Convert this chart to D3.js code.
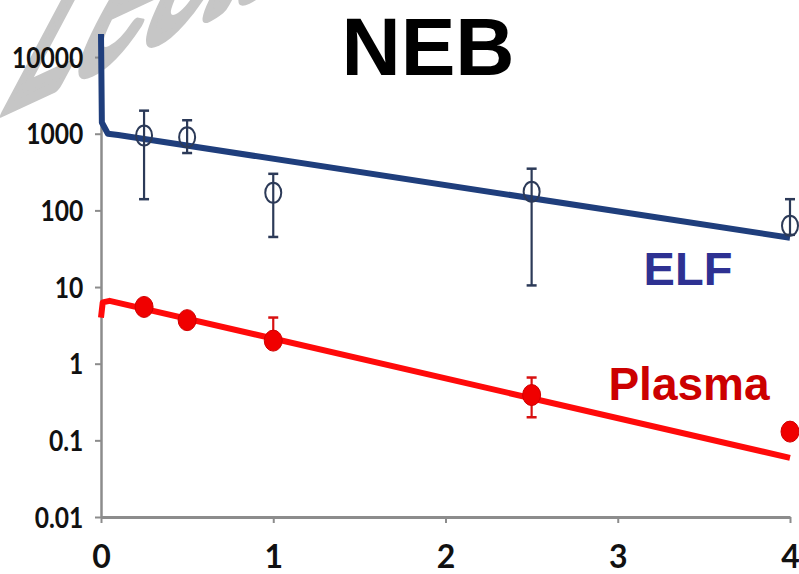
<!DOCTYPE html>
<html><head><meta charset="utf-8">
<script src="https://cdn.jsdelivr.net/npm/d3@7"></script>
<style>body{margin:0;background:#fff;}svg{display:block;}</style>
</head><body>
<script>
// ---- data ----
const title = "NEB";
const watermark = "Lecture";
const xTicks = [0, 1, 2, 3, 4];
const yTicks = [0.01, 0.1, 1, 10, 100, 1000, 10000];
const yTickLabels = ["0.01", "0.1", "1", "10", "100", "1000", "10000"];

// fitted curves
const elfCurveT = [0, 0.005, 0.04, 0.1, 4];
const elfCurveC = [20000, 1400, 1000, 960, 44];
const plasmaCurveT = [0, 0.01, 0.05, 4];
const plasmaCurveC = [4, 6.3, 6.6, 0.059];

// observed data
const elfT = [0.25, 0.5, 1, 2.5, 4];
const elfMean = [950, 900, 170, 175, 63];
const elfLow = [140, 560, 45, 10.5, 48];
const elfHigh = [2000, 1500, 300, 350, 140];

const plasmaT = [0.25, 0.5, 1, 2.5, 4];
const plasmaMean = [5.5, 3.7, 2.0, 0.39, 0.13];
const plasmaLow = [null, null, null, 0.2, null];
const plasmaHigh = [null, null, 4.0, 0.66, null];

const seriesLabels = ["ELF", "Plasma"];

// ---- drawing ----
const W = 799, H = 574;
const svg = d3.select("body").append("svg").attr("width", W).attr("height", H);

// watermark (sheared, partly outside the picture)
svg.append("text")
  .attr("transform", "matrix(0.874,-0.407,-0.953,1.794,-5,115)")
  .attr("font-family", "Liberation Sans, Arial, sans-serif")
  .attr("font-size", 140)
  .attr("fill", "#c6c6c6")
  .attr("stroke", "#c6c6c6").attr("stroke-width", 8)
  .attr("stroke-linejoin", "round")
  .text(watermark);

const x = d3.scaleLinear().domain([0, 4]).range([101, 790]);
const y = d3.scaleLog().domain([0.01, 20000]).range([517, 34]);

const axisColor = "#8c8c8c";

// y axis
const yAxis = d3.axisLeft(y).tickValues(yTicks).tickSize(6).tickSizeOuter(0)
  .tickFormat((d, i) => yTickLabels[i]);
const gy = svg.append("g").attr("transform", `translate(${x(0)},0)`).call(yAxis);
gy.select(".domain").attr("stroke", axisColor).attr("stroke-width", 2.5);
gy.selectAll(".tick line").attr("stroke", axisColor).attr("stroke-width", 2);
gy.selectAll(".tick text")
  .attr("font-family", "Lato, sans-serif").attr("font-weight", 700)
  .attr("font-size", 28).attr("fill", "#111")
  .attr("x", -20).attr("dy", "0.36em")
  .attr("transform", "scale(0.88,1)");

// x axis
const xAxis = d3.axisBottom(x).tickValues(xTicks).tickSize(6).tickSizeOuter(0)
  .tickFormat(d3.format("d"));
const gx = svg.append("g").attr("transform", `translate(0,${y(0.01)})`).call(xAxis);
gx.select(".domain").attr("stroke", axisColor).attr("stroke-width", 3);
gx.selectAll(".tick line").attr("stroke", axisColor).attr("stroke-width", 2);
gx.selectAll(".tick text")
  .attr("font-family", "Lato, sans-serif").attr("font-weight", 700)
  .attr("font-size", 32).attr("fill", "#111")
  .attr("y", 28).attr("dy", "0.71em");

const line = d3.line().x(d => x(d[0])).y(d => y(d[1]));

// ELF curve
const elfColor = "#1f3e7c";
svg.append("path").datum(elfCurveT.map((t, i) => [t, elfCurveC[i]]))
  .attr("d", line).attr("fill", "none").attr("stroke", elfColor)
  .attr("stroke-width", 6).attr("stroke-linejoin", "round");

// Plasma curve
const plColor = "#ff0a0a";
svg.append("path").datum(plasmaCurveT.map((t, i) => [t, plasmaCurveC[i]]))
  .attr("d", line).attr("fill", "none").attr("stroke", plColor)
  .attr("stroke-width", 6).attr("stroke-linejoin", "round");

// ELF error bars
const ebColor = "#2c3a58";
const elfG = svg.append("g");
elfT.forEach((t, i) => {
  const cx = x(t);
  elfG.append("line").attr("x1", cx).attr("x2", cx)
    .attr("y1", y(elfLow[i])).attr("y2", y(elfHigh[i]))
    .attr("stroke", ebColor).attr("stroke-width", 2.2);
  [elfLow[i], elfHigh[i]].forEach(v => {
    elfG.append("line").attr("x1", cx - 5).attr("x2", cx + 5)
      .attr("y1", y(v)).attr("y2", y(v))
      .attr("stroke", ebColor).attr("stroke-width", 2.5);
  });
  elfG.append("ellipse").attr("cx", cx).attr("cy", y(elfMean[i]))
    .attr("rx", 8).attr("ry", 10)
    .attr("fill", "none").attr("stroke", ebColor).attr("stroke-width", 2);
});

// Plasma error bars + markers
const plG = svg.append("g");
plasmaT.forEach((t, i) => {
  const cx = x(t);
  [plasmaLow[i], plasmaHigh[i]].forEach(v => {
    if (v == null) return;
    plG.append("line").attr("x1", cx).attr("x2", cx)
      .attr("y1", y(plasmaMean[i])).attr("y2", y(v))
      .attr("stroke", "#d81010").attr("stroke-width", 2.2);
    plG.append("line").attr("x1", cx - 5).attr("x2", cx + 5)
      .attr("y1", y(v)).attr("y2", y(v))
      .attr("stroke", "#d81010").attr("stroke-width", 2.5);
  });
  plG.append("ellipse").attr("cx", cx).attr("cy", y(plasmaMean[i]))
    .attr("rx", 9).attr("ry", 10.5)
    .attr("fill", "#f00000").attr("stroke", "#d00000").attr("stroke-width", 1);
});

// title
svg.append("text").attr("x", 428).attr("y", 75)
  .attr("text-anchor", "middle")
  .attr("font-family", "Liberation Sans, Arial, sans-serif")
  .attr("font-weight", 700).attr("font-size", 82).attr("fill", "#000")
  .text(title);

// series labels
svg.append("text").attr("x", 688).attr("y", 285)
  .attr("text-anchor", "middle")
  .attr("font-family", "Liberation Sans, Arial, sans-serif")
  .attr("font-weight", 700).attr("font-size", 47).attr("fill", "#2e3192")
  .text(seriesLabels[0]);
svg.append("text").attr("x", 689).attr("y", 400)
  .attr("text-anchor", "middle")
  .attr("font-family", "Liberation Sans, Arial, sans-serif")
  .attr("font-weight", 700).attr("font-size", 46).attr("fill", "#cc0000")
  .text(seriesLabels[1]);
</script>
</body></html>
